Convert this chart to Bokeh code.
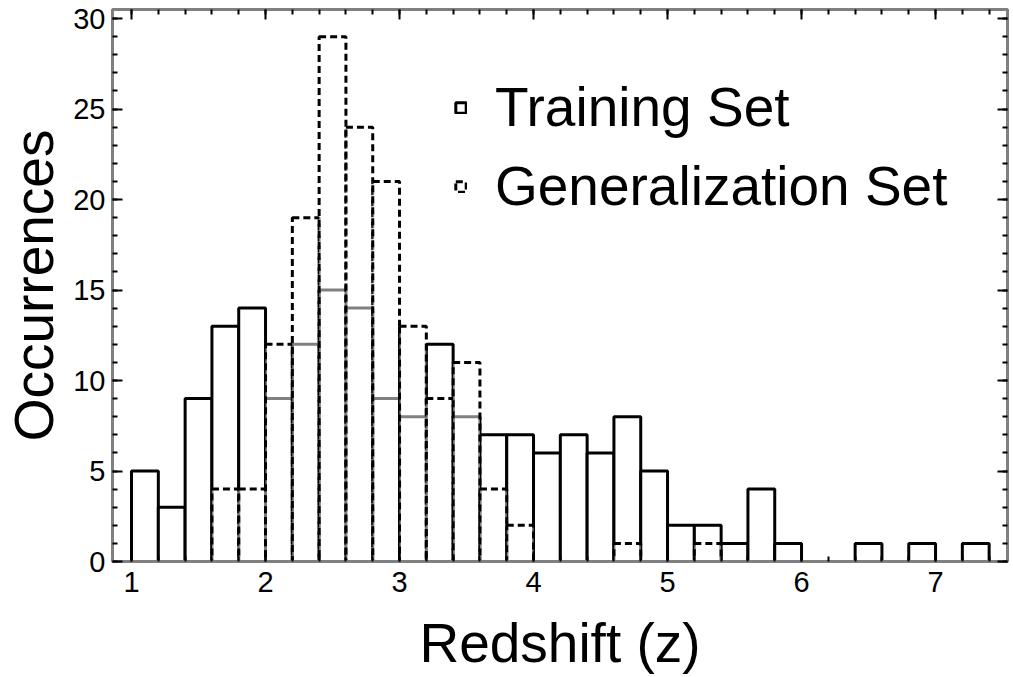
import numpy as np
from bokeh.plotting import figure
from bokeh.models import (Range1d, LinearAxis, SingleIntervalTicker, Legend, LegendItem,
                          ColumnDataSource)
from bokeh.embed import file_html
from bokeh.resources import INLINE

# ---- data (redshift histogram, bin width 0.2 starting at z = 1.0) ----
bin_width = 0.2
bin_start = 1.0
training_counts = [5, 3, 9, 13, 14, 9, 12, 15, 14, 9, 8, 12, 8, 7, 7, 6,
                   7, 6, 8, 5, 2, 2, 1, 4, 1, 0, 0, 1, 0, 1, 0, 1]
generalization_counts = [0, 0, 0, 4, 4, 12, 19, 29, 24, 21, 13, 9, 11, 4, 2, 0,
                         0, 0, 1, 0, 0, 1, 0, 0, 0, 0, 0, 0, 0, 0, 0, 0]
x_ticks = [1, 2, 3, 4, 5, 6, 7]
y_ticks = [0, 5, 10, 15, 20, 25, 30]

lefts = bin_start + bin_width * np.arange(len(training_counts))


def source_for(counts):
    c = np.array(counts, dtype=float)
    m = c > 0
    return ColumnDataSource(dict(left=lefts[m], right=lefts[m] + bin_width,
                                 bottom=np.zeros(m.sum()), top=c[m]))


FONT = "Liberation Sans"
GREY = "#808080"

p = figure(width=1013, height=677, output_backend="svg", toolbar_location=None,
           x_range=Range1d(0.858, 7.537), y_range=Range1d(0, 30.5),
           min_border_left=0, min_border_right=6, min_border_top=9, min_border_bottom=116)
p.grid.visible = False
p.outline_line_color = GREY
p.outline_line_width = 3
p.background_fill_color = "white"
p.border_fill_color = "white"

r_train = p.quad(left="left", right="right", bottom="bottom", top="top",
                 source=source_for(training_counts),
                 fill_color="white", line_color="black", line_width=3)
r_gen = p.quad(left="left", right="right", bottom="bottom", top="top",
               source=source_for(generalization_counts),
               fill_color="white", fill_alpha=0.5, line_color="black",
               line_width=3, line_dash="7 4")


def style_axis(ax, ticks, labels=True):
    ax.axis_line_color = GREY
    ax.axis_line_width = 3
    ax.major_tick_in = 10
    ax.major_tick_out = 0
    ax.minor_tick_in = 5
    ax.minor_tick_out = 0
    ax.major_tick_line_color = "black"
    ax.minor_tick_line_color = "black"
    ax.major_tick_line_width = 2
    ax.minor_tick_line_width = 2
    ax.major_label_text_font = FONT
    ax.major_label_text_color = "black"
    ax.axis_label_text_font = FONT
    ax.axis_label_text_font_style = "normal"
    ax.axis_label_text_color = "black"
    ax.major_label_text_font_size = "29px"
    ax.axis_label_text_font_size = "55px"
    if not labels:
        ax.major_label_overrides = {t: "" for t in ticks}
        ax.major_label_standoff = 0


p.xaxis.ticker = SingleIntervalTicker(interval=1, num_minor_ticks=5)
p.yaxis.ticker = SingleIntervalTicker(interval=5, num_minor_ticks=5)
style_axis(p.xaxis[0], x_ticks)
style_axis(p.yaxis[0], y_ticks)
p.yaxis.axis_label = "Occurrences"
p.xaxis.axis_label = "Redshift (z)"
p.xaxis.major_label_standoff = 10
p.yaxis.major_label_standoff = 7
p.yaxis.axis_label_standoff = 5
p.xaxis.axis_label_standoff = 17
p.xaxis.axis_label_text_line_height = 0.8

top_ax = LinearAxis(ticker=SingleIntervalTicker(interval=1, num_minor_ticks=5))
right_ax = LinearAxis(ticker=SingleIntervalTicker(interval=5, num_minor_ticks=5))
style_axis(top_ax, x_ticks, labels=False)
style_axis(right_ax, y_ticks, labels=False)
p.add_layout(top_ax, "above")
p.add_layout(right_ax, "right")

legend = Legend(items=[LegendItem(label="Training Set", renderers=[r_train]),
                       LegendItem(label="Generalization Set", renderers=[r_gen])],
                location=(342, 343), glyph_width=13, glyph_height=13,
                label_standoff=28, spacing=15, padding=0, margin=0,
                border_line_alpha=0, background_fill_alpha=0,
                label_text_font=FONT, label_text_font_size="55px",
                label_text_color="black")
p.add_layout(legend)

open("out.html", "w").write(file_html(p, INLINE))
